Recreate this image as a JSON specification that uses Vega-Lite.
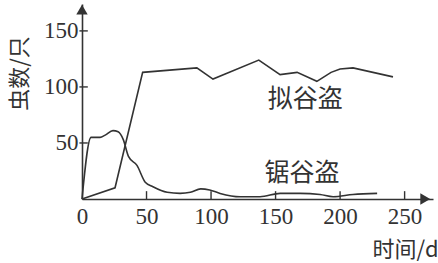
{
  "$schema": "https://vega.github.io/schema/vega-lite/v6.json",
  "width": 351,
  "height": 195,
  "autosize": {"type": "none"},
  "padding": {"left": 82, "top": 4, "right": 5, "bottom": 64},
  "background": "white",
  "config": {"view": {"stroke": null}},
  "datasets": {
    "lines": [
      {"species": "拟谷盗", "t": 0, "n": 0},
      {"species": "拟谷盗", "t": 25.6, "n": 10},
      {"species": "拟谷盗", "t": 47, "n": 113},
      {"species": "拟谷盗", "t": 89, "n": 117},
      {"species": "拟谷盗", "t": 101.5, "n": 107},
      {"species": "拟谷盗", "t": 137, "n": 124},
      {"species": "拟谷盗", "t": 153.5, "n": 111},
      {"species": "拟谷盗", "t": 166.7, "n": 113},
      {"species": "拟谷盗", "t": 182, "n": 105},
      {"species": "拟谷盗", "t": 193, "n": 113},
      {"species": "拟谷盗", "t": 200, "n": 116},
      {"species": "拟谷盗", "t": 210, "n": 117},
      {"species": "拟谷盗", "t": 241, "n": 109},
      {"species": "锯谷盗", "t": 0, "n": 0},
      {"species": "锯谷盗", "t": 7, "n": 55},
      {"species": "锯谷盗", "t": 14, "n": 55},
      {"species": "锯谷盗", "t": 18, "n": 57},
      {"species": "锯谷盗", "t": 24, "n": 61},
      {"species": "锯谷盗", "t": 28, "n": 60},
      {"species": "锯谷盗", "t": 32, "n": 53},
      {"species": "锯谷盗", "t": 36, "n": 38},
      {"species": "锯谷盗", "t": 42.6, "n": 30},
      {"species": "锯谷盗", "t": 49, "n": 15},
      {"species": "锯谷盗", "t": 55, "n": 11},
      {"species": "锯谷盗", "t": 66, "n": 6},
      {"species": "锯谷盗", "t": 76, "n": 5},
      {"species": "锯谷盗", "t": 84, "n": 6},
      {"species": "锯谷盗", "t": 92, "n": 9},
      {"species": "锯谷盗", "t": 99, "n": 8},
      {"species": "锯谷盗", "t": 107, "n": 5},
      {"species": "锯谷盗", "t": 122.5, "n": 2},
      {"species": "锯谷盗", "t": 138, "n": 2},
      {"species": "锯谷盗", "t": 153.5, "n": 5},
      {"species": "锯谷盗", "t": 169, "n": 5},
      {"species": "锯谷盗", "t": 184.5, "n": 4},
      {"species": "锯谷盗", "t": 194.6, "n": 2},
      {"species": "锯谷盗", "t": 210, "n": 4},
      {"species": "锯谷盗", "t": 228.7, "n": 5}
    ],
    "labels": [
      {"t": 173, "n": 89, "label": "拟谷盗"},
      {"t": 170.5, "n": 23, "label": "锯谷盗"}
    ],
    "xticks": [
      {"t": 50, "n": 0, "n2": 7},
      {"t": 100, "n": 0, "n2": 7},
      {"t": 150, "n": 0, "n2": 7},
      {"t": 200, "n": 0, "n2": 7},
      {"t": 250, "n": 0, "n2": 7}
    ],
    "yticks": [
      {"t": -2, "t2": 4.5, "n": 50},
      {"t": -2, "t2": 4.5, "n": 100},
      {"t": -2, "t2": 4.5, "n": 150}
    ],
    "arrows": [
      {"t": 266, "n": 0, "shape": "triangle-right"},
      {"t": 0, "n": 169, "shape": "triangle-up"}
    ]
  },
  "layer": [
    {
      "data": {"name": "lines"},
      "transform": [{"filter": "datum.species === '拟谷盗'"}],
      "mark": {"type": "line", "color": "#333333", "strokeWidth": 1.6, "interpolate": "linear"},
      "encoding": {
        "x": {
          "field": "t", "type": "quantitative",
          "scale": {"domain": [0, 272], "nice": false, "zero": true},
          "axis": {
            "values": [0, 50, 100, 150, 200, 250],
            "grid": false,
            "domainColor": "#333333", "domainWidth": 1.6,
            "ticks": false,
            "labelFlush": false,
            "labelPadding": 6,
            "labelFont": "Liberation Serif", "labelFontSize": 23, "labelColor": "#333333",
            "title": "时间/d",
            "titleFont": "Noto Sans CJK SC", "titleFontSize": 22, "titleFontWeight": "normal", "titleColor": "#333333",
            "titleX": 323, "titleY": 50, "titleAlign": "center", "titleBaseline": "middle"
          }
        },
        "y": {
          "field": "n", "type": "quantitative",
          "scale": {"domain": [0, 174], "nice": false, "zero": true},
          "axis": {
            "values": [50, 100, 150],
            "grid": false,
            "domainColor": "#333333", "domainWidth": 1.6,
            "ticks": false,
            "labelFlush": false,
            "labelPadding": 4,
            "labelFont": "Liberation Serif", "labelFontSize": 23, "labelColor": "#333333",
            "title": "虫数/只",
            "titleFont": "Noto Sans CJK SC", "titleFontSize": 22, "titleFontWeight": "normal", "titleColor": "#333333",
            "titleX": -63, "titleY": 69, "titleAngle": -90, "titleAlign": "center", "titleBaseline": "middle"
          }
        }
      }
    },
    {
      "data": {"name": "lines"},
      "transform": [{"filter": "datum.species === '锯谷盗'"}],
      "mark": {"type": "line", "color": "#333333", "strokeWidth": 1.6, "interpolate": "monotone"},
      "encoding": {
        "x": {"field": "t", "type": "quantitative"},
        "y": {"field": "n", "type": "quantitative"}
      }
    },
    {
      "data": {"name": "xticks"},
      "mark": {"type": "rule", "color": "#333333", "strokeWidth": 1.4},
      "encoding": {
        "x": {"field": "t", "type": "quantitative"},
        "y": {"field": "n", "type": "quantitative"},
        "y2": {"field": "n2"}
      }
    },
    {
      "data": {"name": "yticks"},
      "mark": {"type": "rule", "color": "#333333", "strokeWidth": 1.4, "clip": false},
      "encoding": {
        "x": {"field": "t", "type": "quantitative"},
        "x2": {"field": "t2"},
        "y": {"field": "n", "type": "quantitative"}
      }
    },
    {
      "data": {"name": "labels"},
      "mark": {"type": "text", "font": "Noto Sans CJK SC", "fontSize": 25, "color": "#333333", "align": "center", "baseline": "middle"},
      "encoding": {
        "x": {"field": "t", "type": "quantitative"},
        "y": {"field": "n", "type": "quantitative"},
        "text": {"field": "label"}
      }
    },
    {
      "data": {"name": "arrows"},
      "mark": {"type": "point", "filled": true, "color": "#333333", "size": 130, "opacity": 1},
      "encoding": {
        "x": {"field": "t", "type": "quantitative"},
        "y": {"field": "n", "type": "quantitative"},
        "shape": {"field": "shape", "type": "nominal", "scale": null, "legend": null}
      }
    }
  ]
}
